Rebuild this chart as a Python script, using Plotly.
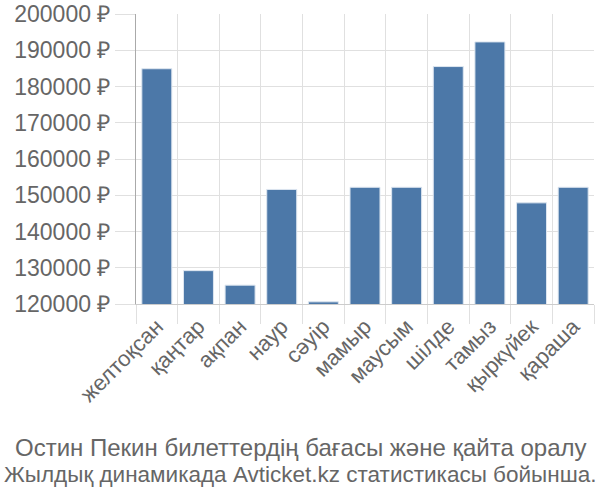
import plotly.graph_objects as go

months = ["желтоқсан", "қаңтар", "ақпан", "наур", "сәуір", "мамыр",
          "маусым", "шілде", "тамыз", "қыркүйек", "қараша"]
prices = [184900, 129200, 125200, 151600, 120600, 152200,
          152200, 185500, 192300, 147900, 152200]
y_ticks = [120000, 130000, 140000, 150000, 160000, 170000, 180000, 190000, 200000]
y_tick_labels = [f"{v} ₽" for v in y_ticks]
title_lines = ["Остин Пекин билеттердің бағасы және қайта оралу",
               "Жылдық динамикада Avticket.kz статистикасы бойынша."]

font_family = "Liberation Sans, Arial, sans-serif"
txt_color = "#666666"

W, H = 600, 500
L, R, T, B = 136, 6, 14, 196
plot_w = W - L - R
plot_h = H - T - B


def px_to_paper_y(py):
    return (H - B - py) / plot_h


def px_to_paper_x(px):
    return (px - L) / plot_w


fig = go.Figure(go.Bar(
    x=months, y=prices,
    marker=dict(color="#4C78A8", line=dict(color="#dde6f0", width=1)),
))

fig.update_layout(
    width=W, height=H,
    margin=dict(l=L, r=R, t=T, b=B),
    paper_bgcolor="white", plot_bgcolor="white",
    bargap=0.28,
    showlegend=False,
    font=dict(family=font_family, color=txt_color, size=22),
    annotations=[
        dict(text=title_lines[0], x=px_to_paper_x(301), y=px_to_paper_y(447),
             xref="paper", yref="paper", xanchor="center", yanchor="middle",
             showarrow=False, font=dict(size=24, color=txt_color)),
        dict(text=title_lines[1], x=px_to_paper_x(300), y=px_to_paper_y(474),
             xref="paper", yref="paper", xanchor="center", yanchor="middle",
             showarrow=False, font=dict(size=22.5, color=txt_color)),
    ],
)

fig.update_xaxes(
    type="category",
    automargin=False,
    tickson="boundaries",
    showgrid=True, gridcolor="#e0e0e0", gridwidth=1,
    ticks="outside", ticklen=19, tickcolor="#e0e0e0",
    showline=True, linecolor="#cccccc", linewidth=1,
    tickangle=-45,
    tickfont=dict(size=22, color=txt_color),
)
fig.update_yaxes(
    automargin=False,
    range=[120000, 200000],
    tickvals=y_ticks, ticktext=y_tick_labels,
    showgrid=True, gridcolor="#e0e0e0", gridwidth=1,
    ticks="outside", ticklen=20, tickcolor="#e0e0e0",
    showline=True, linecolor="#aaaaaa", linewidth=1,
    zeroline=False,
    tickfont=dict(size=23, color=txt_color),
)

fig.write_html(
    "out.html",
    config={"displayModeBar": False},
    post_script="document.body.style.margin='0';document.body.style.overflow='hidden';",
)
